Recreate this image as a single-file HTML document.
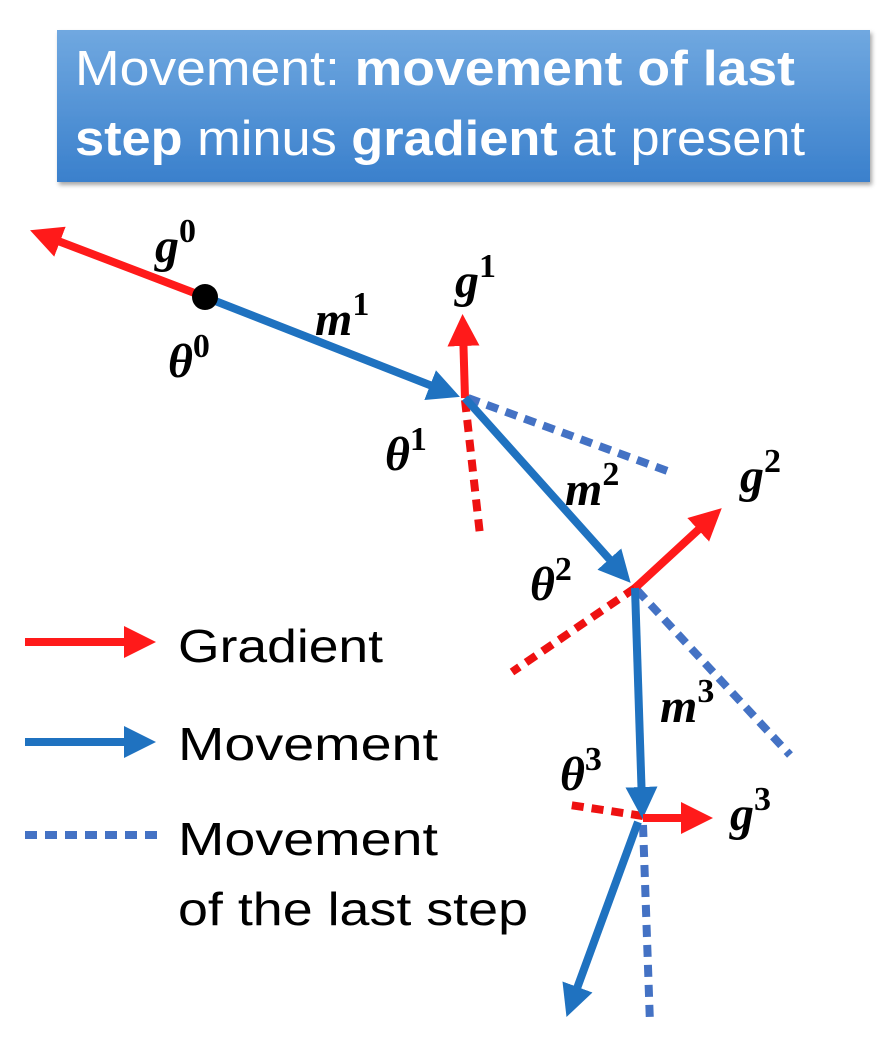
<!DOCTYPE html>
<html><head><meta charset="utf-8"><style>
html,body{margin:0;padding:0;background:#fff;}
svg{display:block;}
.lbl{font-family:"Liberation Serif",serif;font-weight:bold;font-style:italic;font-size:48px;fill:#000;}
.sup{font-size:34px;font-style:normal;}
.leg{font-family:"Liberation Sans","DejaVu Sans",sans-serif;font-size:46px;fill:#000;}
</style></head><body>
<svg width="888" height="1038" viewBox="0 0 888 1038">
<defs>
<linearGradient id="tg" x1="0" y1="0" x2="0" y2="1">
<stop offset="0" stop-color="#70a8e0"/><stop offset="1" stop-color="#3a80cc"/>
</linearGradient>
<filter id="sh"><feDropShadow dx="2" dy="3" stdDeviation="2" flood-opacity="0.35"/></filter>
<marker id="ar" markerWidth="4" markerHeight="4" refX="2" refY="2" orient="auto" markerUnits="strokeWidth"><path d="M0,0 L4,2 L0,4 Z" fill="#ff1a1a"/></marker>
<marker id="ab" markerWidth="4" markerHeight="4" refX="2" refY="2" orient="auto" markerUnits="strokeWidth"><path d="M0,0 L4,2 L0,4 Z" fill="#1f72c0"/></marker>
</defs>
<g>
<rect x="57" y="30" width="813" height="152" fill="url(#tg)" filter="url(#sh)"/>
<text x="75" y="85" textLength="720" lengthAdjust="spacingAndGlyphs" font-family="Liberation Sans, DejaVu Sans, sans-serif" font-size="49" fill="#fff">Movement: <tspan font-weight="bold">movement of last</tspan></text>
<text x="75" y="155" textLength="730" lengthAdjust="spacingAndGlyphs" font-family="Liberation Sans, DejaVu Sans, sans-serif" font-size="49" fill="#fff"><tspan font-weight="bold">step</tspan> minus <tspan font-weight="bold">gradient</tspan> at present</text>
</g>
<g stroke-width="8" fill="none">
<line x1="468" y1="398" x2="670" y2="472" stroke="#4472c4" stroke-dasharray="12,8"/>
<line x1="465" y1="400" x2="480" y2="535" stroke="#ee1111" stroke-dasharray="12,8"/>
<line x1="635" y1="588" x2="512" y2="672" stroke="#ee1111" stroke-dasharray="12,8"/>
<line x1="637" y1="590" x2="790" y2="755" stroke="#4472c4" stroke-dasharray="12,8"/>
<line x1="643" y1="816" x2="570" y2="805" stroke="#ee1111" stroke-dasharray="12,8"/>
<line x1="643" y1="825" x2="650" y2="1024" stroke="#4472c4" stroke-dasharray="12,8"/>
<line x1="205" y1="297" x2="45" y2="236" stroke="#ff1a1a" marker-end="url(#ar)"/>
<line x1="205" y1="297" x2="445" y2="391" stroke="#1f72c0" marker-end="url(#ab)"/>
<line x1="465" y1="398" x2="463" y2="330" stroke="#ff1a1a" marker-end="url(#ar)"/>
<line x1="465" y1="398" x2="620" y2="571" stroke="#1f72c0" marker-end="url(#ab)"/>
<line x1="635" y1="588" x2="710" y2="519" stroke="#ff1a1a" marker-end="url(#ar)"/>
<line x1="635" y1="588" x2="642" y2="803" stroke="#1f72c0" marker-end="url(#ab)"/>
<line x1="643" y1="818" x2="697" y2="818" stroke="#ff1a1a" marker-end="url(#ar)"/>
<line x1="638" y1="822" x2="572" y2="1002" stroke="#1f72c0" marker-end="url(#ab)"/>
</g>
<circle cx="205" cy="297" r="13" fill="#000"/>
<g>
<text class="lbl" x="155" y="262">g<tspan class="sup" dy="-20">0</tspan></text>
<text class="lbl" x="168" y="377">θ<tspan class="sup" dy="-20">0</tspan></text>
<text class="lbl" x="315" y="335">m<tspan class="sup" dy="-20">1</tspan></text>
<text class="lbl" x="455" y="297">g<tspan class="sup" dy="-20">1</tspan></text>
<text class="lbl" x="385" y="470">θ<tspan class="sup" dy="-20">1</tspan></text>
<text class="lbl" x="565" y="505">m<tspan class="sup" dy="-20">2</tspan></text>
<text class="lbl" x="740" y="492">g<tspan class="sup" dy="-20">2</tspan></text>
<text class="lbl" x="530" y="600">θ<tspan class="sup" dy="-20">2</tspan></text>
<text class="lbl" x="660" y="722">m<tspan class="sup" dy="-20">3</tspan></text>
<text class="lbl" x="560" y="790">θ<tspan class="sup" dy="-20">3</tspan></text>
<text class="lbl" x="730" y="830">g<tspan class="sup" dy="-20">3</tspan></text>
</g>
<g>
<line x1="25" y1="642" x2="140" y2="642" stroke="#ff1a1a" stroke-width="8" marker-end="url(#ar)"/>
<text class="leg" x="178" y="662" textLength="205" lengthAdjust="spacingAndGlyphs">Gradient</text>
<line x1="25" y1="742" x2="140" y2="742" stroke="#1f72c0" stroke-width="8" marker-end="url(#ab)"/>
<text class="leg" x="178" y="760" textLength="260" lengthAdjust="spacingAndGlyphs">Movement</text>
<line x1="25" y1="835" x2="158" y2="835" stroke="#4472c4" stroke-width="8" stroke-dasharray="12,8"/>
<text class="leg" x="178" y="855" textLength="260" lengthAdjust="spacingAndGlyphs">Movement</text>
<text class="leg" x="178" y="925" textLength="350" lengthAdjust="spacingAndGlyphs">of the last step</text>
</g>
</svg>
</body></html>
